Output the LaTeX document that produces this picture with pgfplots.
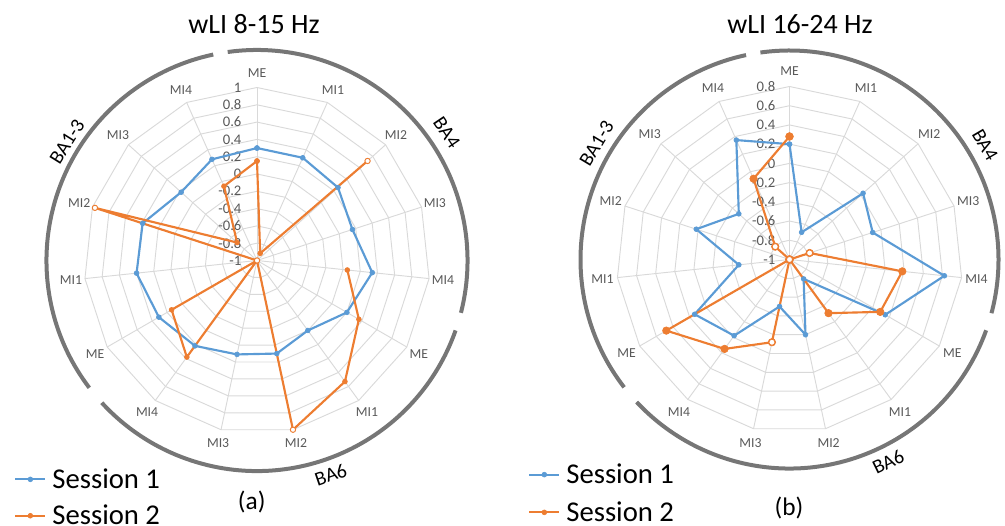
\documentclass[border=0pt]{standalone}
\usepackage{fontspec}
\setmainfont{Carlito}
\usepackage{pgfplots}
\pgfplotsset{compat=1.18}
\usepackage{pgfplotstable}

\definecolor{sone}{HTML}{5B9BD5}
\definecolor{stwo}{HTML}{ED7D31}
\definecolor{gridc}{HTML}{D9D9D9}
\definecolor{labc}{HTML}{595959}
\definecolor{arcc}{HTML}{767676}

% chart (a): wLI 8-15 Hz, index i = category position clockwise from top (24 deg each), 15 = closing point
\pgfplotstableread{
i v
0 0.30
1 0.30
2 0.26
3 0.16
4 0.34
5 0.20
6 0.00
7 0.10
8 0.11
9 0.22
10 0.31
11 0.40
12 0.39
13 0.18
14 0.28
15 0.30
}\aone
\pgfplotstableread{
i v
0 0.15
1 -0.91
2 0.72
3 nan
4 0.05
5 0.36
6 0.73
7 1.00
8 -1.00
9 0.38
10 0.14
11 -1.00
12 0.97
13 -0.69
14 -0.06
15 0.15
}\atwo
\pgfplotstableread{
i v
2 0.72
7 1.00
8 -1.00
12 0.97
}\aopen
% chart (b): wLI 16-24 Hz
\pgfplotstableread{
i v
0 0.20
1 -0.69
2 0.03
3 -0.09
4 0.62
5 0.15
6 -0.75
7 -0.20
8 -0.50
9 -0.02
10 0.14
11 -0.47
12 0.02
13 -0.29
14 0.36
15 0.20
}\bone
\pgfplotstableread{
i v
0 0.28
1 nan
2 -1.00
3 -0.78
4 0.18
5 0.09
6 -0.31
7 -1.00
8 -0.12
9 0.15
10 0.48
11 -1.00
12 -1.00
13 -0.80
14 -0.08
15 0.28
}\btwo
\pgfplotstableread{
i v
3 -0.78
8 -0.12
13 -0.80
2 -1.00
}\bopen

\newcommand{\RR}{129.75pt}
\tikzset{
  catlab/.style={text=labc, font=\fontsize{10.3}{12}\selectfont, inner sep=0pt},
  ticklab/.style={text=labc, font=\fontsize{11}{13}\selectfont, inner sep=0pt, anchor=east},
  grplab/.style={font=\fontsize{15}{18}\selectfont, inner sep=0pt},
  gridl/.style={gridc, line width=0.7pt},
}
\pgfplotsset{
  radar/.style={
    x=129.75pt, y=129.75pt,
    xmin=-1.6, xmax=1.6, ymin=-1.6, ymax=1.6,
    hide axis, clip=false, anchor=south west,
    unbounded coords=jump,
    legend cell align=left,
    legend image code/.code={\draw[##1, mark size=1.8pt, mark repeat=2, mark phase=2] plot coordinates {(0pt,0pt) (11.25pt,0pt) (22.5pt,0pt)};},
  },
}

\begin{document}
\begin{tikzpicture}
\path[use as bounding box] (0,0) rectangle (753.75pt,393.75pt);

% ---------------- frame (a)
\begin{scope}[shift={(192.75pt,198.375pt)}]
  \foreach \k in {1,...,10}{
    \draw[gridl] (90:{\k*12.975pt}) \foreach \j in {1,...,14}{ -- ({90-24*\j}:{\k*12.975pt}) } -- cycle;
  }
  \foreach \j in {0,...,14} \draw[gridl] (0,0) -- ({90-24*\j}:\RR);
  \foreach \j/\n in {0/ME,1/MI1,2/MI2,3/MI3,4/MI4,5/ME,6/MI1,7/MI2,8/MI3,9/MI4,10/ME,11/MI1,12/MI2,13/MI3,14/MI4}
    \node[catlab] at ({90-24*\j}:140.25pt) {\n};
  \foreach \k/\t in {0/-1,1/-0.8,2/-0.6,3/-0.4,4/-0.2,5/0,6/0.2,7/0.4,8/0.6,9/0.8,10/1}
    \node[ticklab] at (-11.5pt,{\k*12.975pt}) {\t};
  \draw[arcc, line width=3pt] (98:157.9pt) arc[start angle=98, end angle=-14.4, radius=157.9pt];
  \draw[arcc, line width=3pt] (-19.4:157.9pt) arc[start angle=-19.4, end angle=-137.5, radius=157.9pt];
  \draw[arcc, line width=3pt] (-142.8:157.9pt) arc[start angle=-142.8, end angle=-258, radius=157.9pt];
  \node[grplab, rotate=-56] at (34:171.75pt) {BA4};
  \node[grplab, rotate=58] at (148:168pt) {BA1-3};
  \node[grplab, rotate=19] at (-71:170pt) {BA6};
\end{scope}
\node[anchor=base, font=\fontsize{21}{25}\selectfont] at (190.5pt,368.8pt) {wLI 8-15 Hz};
\node[font=\fontsize{19}{23}\selectfont] at (188.8pt,17.5pt) {(a)};

% ---------------- frame (b)
\begin{scope}[shift={(592.125pt,199.125pt)}]
  \foreach \k in {1,...,9}{
    \draw[gridl] (90:{\k*14.41667pt}) \foreach \j in {1,...,14}{ -- ({90-24*\j}:{\k*14.41667pt}) } -- cycle;
  }
  \foreach \j in {0,...,14} \draw[gridl] (0,0) -- ({90-24*\j}:\RR);
  \foreach \j/\n in {0/ME,1/MI1,2/MI2,3/MI3,4/MI4,5/ME,6/MI1,7/MI2,8/MI3,9/MI4,10/ME,11/MI1,12/MI2,13/MI3,14/MI4}
    \node[catlab] at ({90-24*\j}:141pt) {\n};
  \foreach \k/\t in {0/-1,1/-0.8,2/-0.6,3/-0.4,4/-0.2,5/0,6/0.2,7/0.4,8/0.6,9/0.8}
    \node[ticklab] at (-10.5pt,{\k*14.41667pt}) {\t};
  \draw[arcc, line width=3pt] (98:156.75pt) arc[start angle=98, end angle=-14.9, radius=156.75pt];
  \draw[arcc, line width=3pt] (-19.8:156.75pt) arc[start angle=-19.8, end angle=-137, radius=156.75pt];
  \draw[arcc, line width=3pt] (-142.3:156.75pt) arc[start angle=-142.3, end angle=-258, radius=156.75pt];
  \node[grplab, rotate=-59.6] at (30.4:170pt) {BA4};
  \node[grplab, rotate=59] at (149:168.75pt) {BA1-3};
  \node[grplab, rotate=26] at (-64:168.75pt) {BA6};
\end{scope}
\node[anchor=base, font=\fontsize{21}{25}\selectfont] at (600pt,368.8pt) {wLI 16-24 Hz};
\node[font=\fontsize{19}{23}\selectfont] at (591.8pt,13.1pt) {(b)};

% ---------------- data (a)
\begin{axis}[radar, at={(-14.85pt,-9.225pt)},
  legend style={at={(0.0611,0.1296)}, anchor=north west, draw=none, fill=none,
    font=\fontsize{21.5}{25}\selectfont, inner sep=0pt, row sep=7pt, column sep=2.5pt}]
\addplot[sone, line width=1.6pt, mark=*, mark size=1.8pt, mark options={solid, line width=0.5pt}]
  table[x expr={(\thisrow{v}+1)/2*sin(24*\thisrow{i})}, y expr={(\thisrow{v}+1)/2*cos(24*\thisrow{i})}] {\aone};
\addlegendentry{Session 1}
\addplot[stwo, line width=1.6pt, mark=*, mark size=1.8pt, mark options={solid, line width=0.5pt}]
  table[x expr={(\thisrow{v}+1)/2*sin(24*\thisrow{i})}, y expr={(\thisrow{v}+1)/2*cos(24*\thisrow{i})}] {\atwo};
\addlegendentry{Session 2}
\addplot[stwo, only marks, mark=*, mark size=2pt, mark options={fill=white, line width=0.7pt}, forget plot]
  table[x expr={(\thisrow{v}+1)/2*sin(24*\thisrow{i})}, y expr={(\thisrow{v}+1)/2*cos(24*\thisrow{i})}] {\aopen};
\end{axis}

% ---------------- data (b)
\begin{axis}[radar, at={(384.525pt,-8.475pt)},
  legend style={at={(0.0276,0.1363)}, anchor=north west, draw=none, fill=none,
    font=\fontsize{21.5}{25}\selectfont, inner sep=0pt, row sep=8pt, column sep=2.5pt}]
\addplot[sone, line width=1.6pt, mark=*, mark size=1.8pt, mark options={solid, line width=0.5pt}]
  table[x expr={(\thisrow{v}+1)/1.8*sin(24*\thisrow{i})}, y expr={(\thisrow{v}+1)/1.8*cos(24*\thisrow{i})}] {\bone};
\addlegendentry{Session 1}
\addplot[stwo, line width=1.6pt, mark=*, mark size=2.8pt, mark options={solid, line width=0.5pt}]
  table[x expr={(\thisrow{v}+1)/1.8*sin(24*\thisrow{i})}, y expr={(\thisrow{v}+1)/1.8*cos(24*\thisrow{i})}] {\btwo};
\addlegendentry{Session 2}
\addplot[stwo, only marks, mark=*, mark size=2.3pt, mark options={fill=white, line width=0.7pt}, forget plot]
  table[x expr={(\thisrow{v}+1)/1.8*sin(24*\thisrow{i})}, y expr={(\thisrow{v}+1)/1.8*cos(24*\thisrow{i})}] {\bopen};
\end{axis}
\end{tikzpicture}
\end{document}
